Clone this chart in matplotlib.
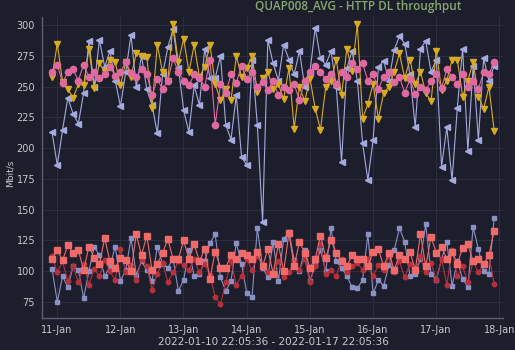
import matplotlib
matplotlib.use("Agg")
import matplotlib.pyplot as plt
import matplotlib.dates as mdates
import pandas as pd

times = pd.date_range("2022-01-10 22:05:36", periods=85, freq="2h")

up_yellow = [258, 285, 254, 248, 241, 252, 251, 281, 249, 269, 262, 272, 270, 251, 270, 258, 277, 275,
             274, 233, 284, 262, 255, 301, 270, 289, 262, 284, 258, 266, 284, 252, 239, 248, 239, 275,
             258, 265, 275, 246, 257, 262, 248, 252, 240, 265, 216, 250, 238, 257, 232, 215, 250, 255,
             272, 243, 281, 263, 301, 224, 236, 252, 224, 245, 250, 262, 277, 257, 272, 252, 262, 245,
             238, 279, 247, 255, 272, 272, 242, 255, 270, 242, 232, 250, 214]
up_lavender = [213, 186, 215, 241, 228, 220, 245, 287, 250, 288, 266, 279, 255, 234, 262, 292, 250, 275,
               248, 235, 212, 260, 282, 297, 265, 231, 213, 251, 235, 281, 257, 257, 275, 219, 207, 243,
               193, 186, 272, 219, 140, 288, 269, 255, 284, 272, 260, 279, 250, 262, 298, 273, 268, 279,
               250, 189, 265, 279, 255, 204, 174, 207, 266, 271, 255, 280, 291, 285, 260, 217, 281, 287,
               262, 272, 185, 217, 174, 233, 281, 198, 267, 207, 273, 255, 267]
up_pink = [262, 268, 253, 262, 264, 255, 268, 258, 262, 257, 260, 266, 259, 262, 270, 261, 258, 264,
           260, 243, 256, 248, 255, 273, 262, 255, 251, 260, 257, 250, 272, 219, 252, 245, 260, 253,
           267, 256, 262, 250, 254, 247, 255, 243, 250, 247, 252, 239, 255, 262, 267, 262, 256, 260,
           252, 262, 258, 269, 264, 269, 255, 260, 248, 258, 262, 254, 258, 245, 256, 244, 250, 247,
           255, 260, 249, 264, 258, 252, 260, 250, 255, 248, 262, 260, 270]
low_lavender = [102, 75, 96, 87, 104, 101, 78, 100, 120, 113, 96, 104, 120, 92, 101, 127, 97, 108,
                101, 92, 120, 106, 103, 110, 84, 93, 117, 96, 98, 108, 123, 130, 95, 84, 92, 123,
                106, 82, 79, 135, 103, 95, 124, 92, 126, 132, 109, 100, 117, 92, 105, 117, 100, 135,
                108, 103, 96, 87, 86, 93, 130, 82, 93, 88, 105, 117, 135, 124, 96, 98, 110, 138,
                98, 93, 110, 124, 88, 108, 94, 87, 136, 118, 100, 98, 143]
low_salmon = [110, 117, 109, 121, 115, 117, 101, 120, 111, 106, 127, 108, 103, 111, 109, 100, 130, 113,
              129, 101, 106, 115, 126, 110, 110, 125, 110, 122, 108, 118, 94, 116, 103, 103, 113, 110,
              115, 113, 110, 116, 104, 118, 98, 122, 100, 131, 104, 124, 115, 103, 110, 129, 111, 125,
              115, 108, 104, 113, 110, 110, 104, 116, 118, 104, 115, 101, 113, 110, 116, 101, 130, 104,
              128, 115, 120, 110, 116, 106, 119, 122, 108, 110, 106, 113, 133]
low_darkred = [112, 99, 108, 92, 104, 91, 106, 89, 102, 96, 109, 100, 93, 118, 99, 105, 93, 110,
               104, 85, 98, 107, 91, 99, 108, 105, 101, 110, 99, 106, 97, 79, 73, 91, 108, 89,
               96, 110, 101, 112, 104, 99, 98, 108, 95, 99, 108, 101, 110, 91, 104, 122, 98, 101,
               96, 110, 99, 104, 107, 101, 110, 96, 105, 101, 112, 99, 108, 95, 106, 101, 112, 99,
               107, 93, 110, 89, 117, 96, 104, 91, 108, 99, 106, 112, 90]

y_ticks = [75, 100, 125, 150, 175, 200, 225, 250, 275, 300]
title = "QUAP008_AVG - HTTP DL throughput"
x_label = "2022-01-10 22:05:36 - 2022-01-17 22:05:36"
y_label = "Mbit/s"

bg = "#1d1e2c"
txt = "#c8c8cc"
fig = plt.figure(figsize=(5.15, 3.5), dpi=100, facecolor=bg)
ax = fig.add_axes([0.0816, 0.0914, 0.8954, 0.8596], facecolor=bg)

lw = 0.8
ax.plot(times, low_lavender, color="#8a90c4", marker="s", ms=3, lw=lw, zorder=2)
ax.plot(times, low_darkred, color="#b8303a", marker="o", ms=3.2, lw=lw, zorder=3)
ax.plot(times, low_salmon, color="#f06a6a", marker="s", ms=4.8, lw=lw, zorder=4)
ax.plot(times, up_lavender, color="#a4aae0", marker="<", ms=4.5, lw=lw, zorder=2)
ax.plot(times, up_yellow, color="#d8aa22", marker="v", ms=5, lw=lw, zorder=3)
ax.plot(times, up_pink, color="#e06aa0", marker="o", ms=4.5, lw=lw, zorder=4)

ax.set_ylim(62, 306.5)
ax.set_xlim(pd.Timestamp("2022-01-10 18:17"), pd.Timestamp("2022-01-18 01:30"))
ax.set_yticks(y_ticks)
ax.xaxis.set_major_locator(mdates.DayLocator())
ax.xaxis.set_major_formatter(mdates.DateFormatter("%d-%b"))

ax.grid(True, color="#2c2e3e", lw=0.8)
ax.set_axisbelow(True)
for s in ["top", "right"]:
    ax.spines[s].set_visible(False)
for s in ["left", "bottom"]:
    ax.spines[s].set_color("#5a5e70")
    ax.spines[s].set_linewidth(1.0)
ax.tick_params(length=0, colors=txt, labelsize=7, pad=5)

fig.text(0.530, 0.022, x_label, color=txt, fontsize=7.5, ha="center", va="center")
fig.text(0.020, 0.506, y_label, color=txt, fontsize=6.5, ha="center", va="center", rotation=90)

fig.text(0.695, 0.999, title, color="#86a870", fontsize=8.5, ha="center", va="top",
         family=["Open Sans", "DejaVu Sans"], fontweight="semibold")

fig.savefig("out.png", dpi=100, facecolor=bg)
